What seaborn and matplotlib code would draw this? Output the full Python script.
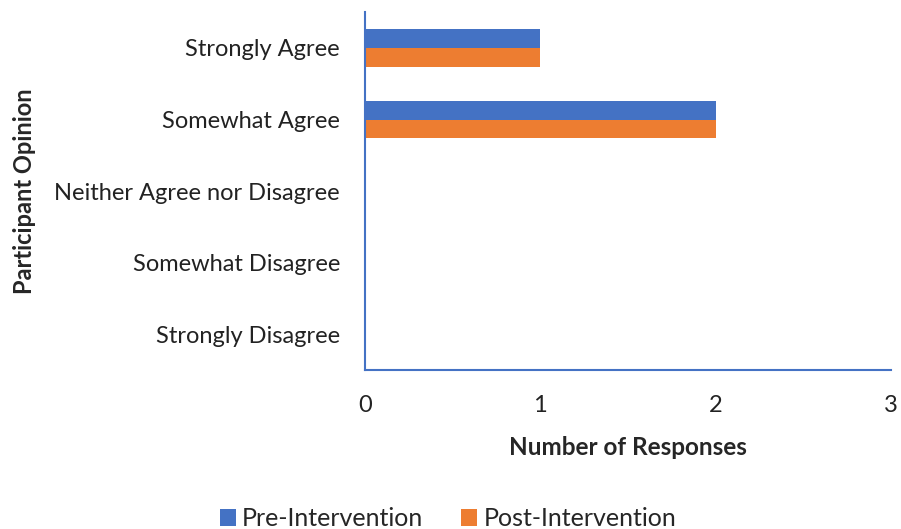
import pandas as pd
import matplotlib.pyplot as plt
import seaborn as sns

# Survey responses
opinions = ["Strongly Agree", "Somewhat Agree", "Neither Agree nor Disagree",
            "Somewhat Disagree", "Strongly Disagree"]
pre_counts = [1, 2, 0, 0, 0]
post_counts = [1, 2, 0, 0, 0]
groups = ["Pre-Intervention", "Post-Intervention"]
x_ticks = [0, 1, 2, 3]

BLUE = "#4472C4"
ORANGE = "#ED7D31"

df = pd.DataFrame({
    "opinion": opinions * 2,
    "count": pre_counts + post_counts,
    "group": [groups[0]] * len(opinions) + [groups[1]] * len(opinions),
})

sns.set_style("white")
plt.rcParams["font.family"] = ["Lato", "DejaVu Sans"]

fig = plt.figure(figsize=(9.01, 5.29), dpi=100)
ax = fig.add_axes([0.405, 0.300, 0.584, 0.677])

sns.barplot(data=df, y="opinion", x="count", hue="group", order=opinions,
            hue_order=groups, palette=[BLUE, ORANGE], orient="h",
            width=0.52, saturation=1, linewidth=0, ax=ax, legend=True)

ax.set_xlim(0, 3)
ax.set_ylim(4.5, -0.5)
ax.set_xticks(x_ticks)
ax.tick_params(axis="both", length=0, labelsize=17, colors="#222222")
ax.tick_params(axis="x", pad=18)
ax.tick_params(axis="y", pad=18)

for side in ["top", "right"]:
    ax.spines[side].set_visible(False)
for side in ["left", "bottom"]:
    ax.spines[side].set_color(BLUE)
    ax.spines[side].set_linewidth(1.5)

ax.set_xlabel("Number of Responses", fontsize=17.5, fontweight="bold", labelpad=14)
ax.set_ylabel("Participant Opinion", fontsize=17, fontweight="bold")
ax.yaxis.set_label_coords(-0.625, 0.5)

handles, labels = ax.get_legend_handles_labels()
ax.legend_.remove()
fig.legend(handles, labels, loc="lower center", bbox_to_anchor=(0.497, -0.045),
           ncol=2, frameon=False, fontsize=18, handlelength=0.65, handleheight=0.65,
           columnspacing=1.5, handletextpad=0.25)

fig.savefig("out.png", dpi=100)
